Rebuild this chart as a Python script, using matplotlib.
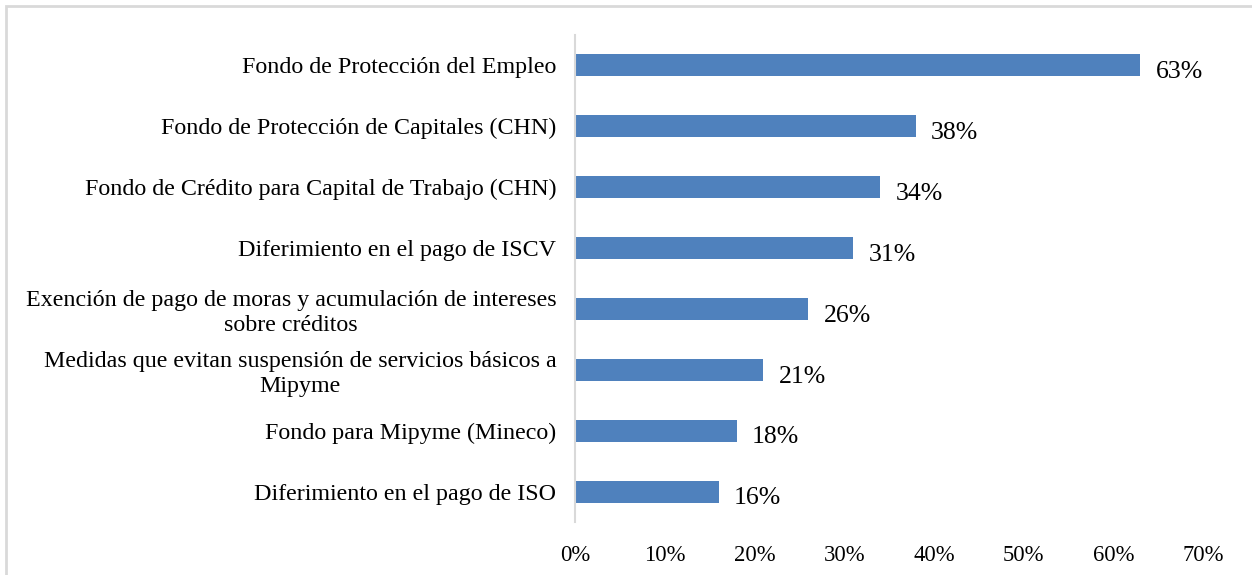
import matplotlib.pyplot as plt
from matplotlib.patches import Rectangle

plt.rcParams['font.family'] = ['Liberation Serif', 'DejaVu Serif']

medidas = [
    "Fondo de Protección del Empleo",
    "Fondo de Protección de Capitales (CHN)",
    "Fondo de Crédito para Capital de Trabajo (CHN)",
    "Diferimiento en el pago de ISCV",
    "Exención de pago de moras y acumulación de intereses\nsobre créditos",
    "Medidas que evitan suspensión de servicios básicos a\nMipyme",
    "Fondo para Mipyme (Mineco)",
    "Diferimiento en el pago de ISO",
]
porcentajes = [63, 38, 34, 31, 26, 21, 18, 16]
ticks = [0, 10, 20, 30, 40, 50, 60, 70]

fig = plt.figure(figsize=(12.52, 5.75), dpi=100)
ax = fig.add_axes([0.4593, 0.0922, 0.5016, 0.8469])

pos = list(range(len(medidas)))
ax.barh(pos, porcentajes, height=0.36, color='#4F81BD')
for y, v in zip(pos, porcentajes):
    ax.text(v + 1.7, y + 0.11, f"{v}%", va='center', ha='left', fontsize=18.5)

ax.set_ylim(len(medidas) - 0.5, -0.5)
ax.set_xlim(0, 70)
ax.set_yticks(pos)
ax.set_yticklabels(medidas, fontsize=17.3, multialignment='center',
                   linespacing=1.2)
ax.set_xticks(ticks)
ax.set_xticklabels([f"{t}%" for t in ticks], fontsize=16.3)
ax.tick_params(axis='both', length=0)
ax.tick_params(axis='x', pad=16.5)
ax.tick_params(axis='y', pad=13.5)

for s in ['top', 'right', 'bottom']:
    ax.spines[s].set_visible(False)
ax.spines['left'].set_color('#d9d9d9')
ax.spines['left'].set_linewidth(1.5)

# chart frame, open on the right and bottom
fig.patches.append(Rectangle((6 / 1252, -0.05), 1.1, 0.05 + 569 / 575,
                             transform=fig.transFigure, fill=False,
                             edgecolor='#d9d9d9', linewidth=2))

fig.savefig('out.png', dpi=100)
